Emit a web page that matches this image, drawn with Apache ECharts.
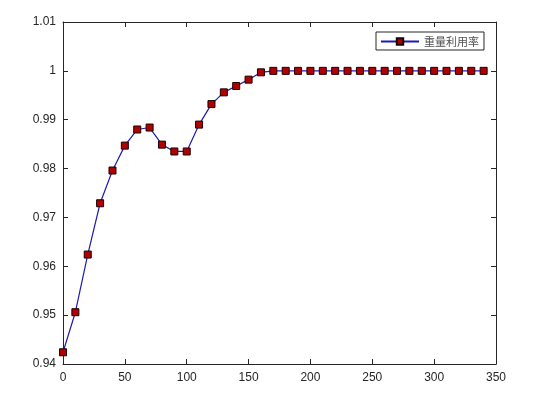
<!DOCTYPE html>
<html><head><meta charset="utf-8">
<script src="https://cdn.jsdelivr.net/npm/echarts@6/dist/echarts.min.js"></script>
<style>html,body{margin:0;padding:0;background:#fff}#c{width:535px;height:398px}</style>
</head><body><div id="c"></div>
<script>
const xValues = [0,10,20,30,40,50,60,70,80,90,100,110,120,130,140,150,160,170,180,190,200,210,220,230,240,250,260,270,280,290,300,310,320,330,340];
const yValues = [0.9424,0.9506,0.9624,0.9729,0.9796,0.9847,0.9880,0.9884,0.9849,0.9835,0.9835,0.9890,0.9932,0.9956,0.9969,0.9982,0.9997,1,1,1,1,1,1,1,1,1,1,1,1,1,1,1,1,1,1];
const seriesName = '重量利用率';
const xTicks = {min:0, max:350, interval:50};
const yTicks = {min:0.94, max:1.01, interval:0.01};

const chart = echarts.init(document.getElementById('c'));
const txt = {color:'#262626', fontFamily:'Arial, "Liberation Sans", sans-serif', fontSize:12};
const axisCommon = {
  axisLine:{show:true, onZero:false, lineStyle:{color:'#262626', width:1}},
  axisTick:{show:true, inside:true, length:5, lineStyle:{color:'#262626'}},
  splitLine:{show:false}
};
chart.setOption({
  backgroundColor:'#fff',
  animation:false,
  grid:{left:63, right:39, top:22, bottom:34, containLabel:false},
  legend:{
    left:376, top:32, orient:'horizontal',
    data:[seriesName],
    borderColor:'#262626', borderWidth:1, padding:[4,5,3,4],
    itemWidth:38, itemHeight:8, itemGap:4,
    textStyle:{color:'#505050', fontSize:11, fontFamily:'"Noto Sans CJK SC", sans-serif'}
  },
  xAxis:[
    Object.assign({type:'value', position:'bottom', min:xTicks.min, max:xTicks.max, interval:xTicks.interval,
      axisLabel:Object.assign({margin:8}, txt)}, axisCommon),
    Object.assign({type:'value', position:'top', min:xTicks.min, max:xTicks.max, interval:xTicks.interval,
      axisLabel:{show:false}}, axisCommon)
  ],
  yAxis:[
    Object.assign({type:'value', position:'left', min:yTicks.min, max:yTicks.max, interval:yTicks.interval,
      axisLabel:Object.assign({margin:7, formatter:v=>String(+v.toFixed(2))}, txt)}, axisCommon),
    Object.assign({type:'value', position:'right', min:yTicks.min, max:yTicks.max, interval:yTicks.interval,
      axisLabel:{show:false}}, axisCommon)
  ],
  series:[{
    name:seriesName, type:'line',
    data:xValues.map((x,i)=>[x,yValues[i]]),
    symbol:'rect', symbolSize:7,
    lineStyle:{color:'#1c1cb4', width:1.2},
    itemStyle:{color:'#b00000', borderColor:'#1a0000', borderWidth:1},
    emphasis:{disabled:true}
  }]
});
</script></body></html>
